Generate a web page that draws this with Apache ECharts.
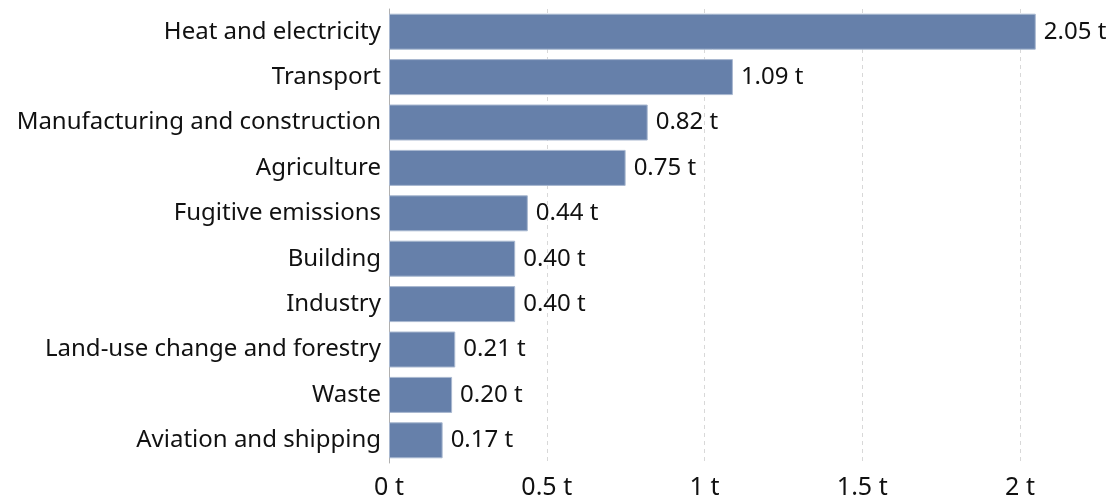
<!DOCTYPE html>
<html>
<head>
<meta charset="utf-8">
<style>
  html, body { margin: 0; padding: 0; background: #fff; }
  #chart { width: 1113px; height: 500px; }
</style>
<script src="https://cdn.jsdelivr.net/npm/echarts@6/dist/echarts.min.js"></script>
</head>
<body>
<div id="chart"></div>
<script>
// Per-capita emissions by sector, tonnes
const sectors = [
  'Heat and electricity',
  'Transport',
  'Manufacturing and construction',
  'Agriculture',
  'Fugitive emissions',
  'Building',
  'Industry',
  'Land-use change and forestry',
  'Waste',
  'Aviation and shipping'
];
const tonnes = [2.05, 1.09, 0.82, 0.75, 0.44, 0.40, 0.40, 0.21, 0.20, 0.17];
const xTicks = [0, 0.5, 1, 1.5, 2];

const FONT = '"Noto Sans", "Open Sans", sans-serif';
const chart = echarts.init(document.getElementById('chart'));

chart.setOption({
  animation: false,
  grid: { left: 389, right: 93, top: 9, bottom: 37, containLabel: false },
  xAxis: {
    type: 'value',
    min: xTicks[0],
    max: xTicks[xTicks.length - 1],
    interval: xTicks[1] - xTicks[0],
    axisLine: { show: false },
    axisTick: { show: false },
    axisLabel: {
      formatter: v => v + ' t',
      color: '#111',
      fontSize: 25,
      fontFamily: FONT,
      margin: 12
    },
    splitLine: { lineStyle: { color: '#d8d8d8', type: [4, 4], width: 1 } }
  },
  yAxis: {
    type: 'category',
    data: sectors,
    inverse: true,
    axisLine: { show: true, lineStyle: { color: '#b0b0b0', width: 1 } },
    axisTick: { show: false },
    axisLabel: {
      color: '#111',
      fontSize: 24,
      fontFamily: FONT,
      margin: 8,
      padding: [4, 0, 0, 0]
    }
  },
  series: [{
    type: 'bar',
    data: tonnes,
    barWidth: 36,
    clip: false,
    itemStyle: {
      color: '#6680aa',
      borderColor: '#a9b8d0',
      borderWidth: 1
    },
    label: {
      show: true,
      position: 'right',
      distance: 8,
      padding: [4, 0, 0, 0],
      formatter: p => p.value.toFixed(2) + ' t',
      color: '#111',
      fontSize: 24,
      fontFamily: FONT
    }
  }]
});
</script>
</body>
</html>
